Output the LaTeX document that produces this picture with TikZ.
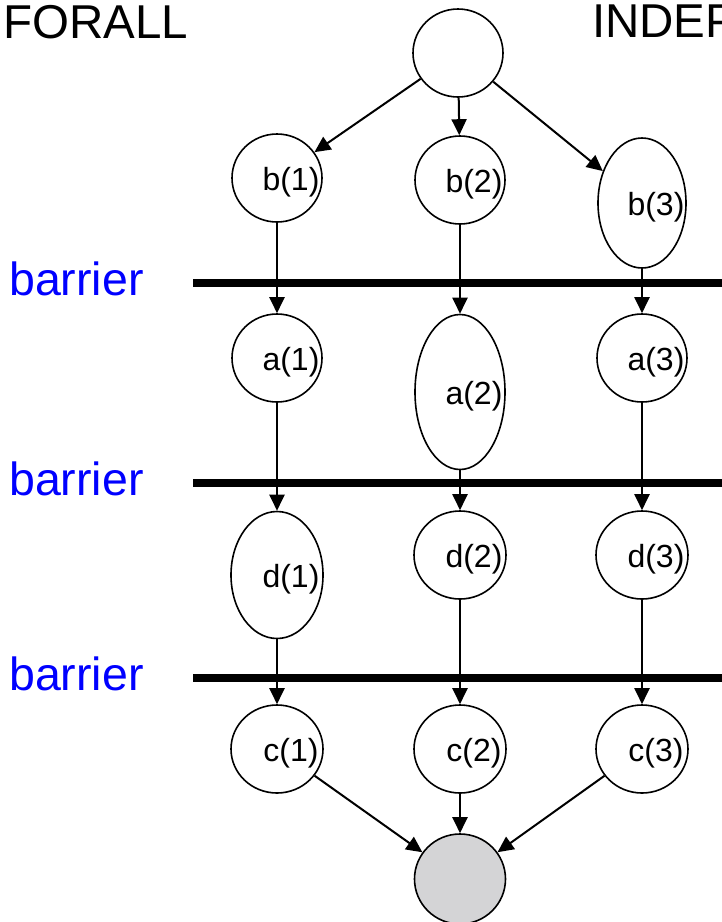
\documentclass[tikz,border=0pt]{standalone}
\usepackage{fontspec}
\setmainfont{Liberation Sans}
\usetikzlibrary{shapes.geometric,arrows.meta}
\definecolor{joinfill}{RGB}{212,212,214}
\definecolor{barrierblue}{RGB}{0,0,255}
\begin{document}
\begin{tikzpicture}[x=1pt,y=-1pt,
  task/.style={draw, ellipse, line width=1.6pt, inner sep=0pt,
    minimum width=90pt, minimum height=88pt},
  tall/.style={minimum height=#1},
  tasklabel/.style={font=\fontsize{32}{38}\selectfont, inner sep=0pt},
  flow/.style={line width=2pt, -{Triangle[length=16pt,width=15pt]}},
  barrierline/.style={line width=8pt},
  barriertext/.style={font=\fontsize{46.5}{54}\selectfont, text=barrierblue,
    anchor=base west, inner sep=0pt},
  heading/.style={font=\fontsize{47.5}{56}\selectfont, anchor=base west, inner sep=0pt}]
\useasboundingbox (0,0) rectangle (722,922);
\clip (0,0) rectangle (722,922);

% headings
\node[heading] (forall) at (3,38) {FORALL};
\node[heading] (indep) at (592,37.5) {INDEPENDENT};

% fork and join
\node[task] (fork) at (458,53) {};
\node[task, fill=joinfill, minimum width=91pt, minimum height=90pt] (join) at (460,879) {};

% task nodes: label text sits right of centre
\newcommand{\tasknode}[5]{%
  \node[task, #5, label={[tasklabel, xshift=14pt, yshift=-4pt]center:#4}] (#1) at (#2,#3) {};}

\tasknode{b1}{277}{178}{b(1)}{}
\tasknode{b2}{460}{180}{b(2)}{}
\tasknode{b3}{642}{203}{b(3)}{tall=130pt, minimum width=88pt}

\tasknode{a1}{277}{358}{a(1)}{}
\tasknode{a2}{460}{392}{a(2)}{tall=155pt}
\tasknode{a3}{642}{358}{a(3)}{}

\tasknode{d1}{277}{575}{d(1)}{tall=127pt, minimum width=92pt}
\tasknode{d2}{460}{555}{d(2)}{minimum width=92pt}
\tasknode{d3}{642}{555}{d(3)}{minimum width=92pt}

\tasknode{c1}{277}{749}{c(1)}{minimum width=92pt}
\tasknode{c2}{460}{749}{c(2)}{minimum width=92pt}
\tasknode{c3}{642}{749}{c(3)}{minimum width=92pt}

% barriers
\coordinate (bar1w) at (193,283); \coordinate (bar1e) at (722,283);
\coordinate (bar2w) at (193,483); \coordinate (bar2e) at (722,483);
\coordinate (bar3w) at (193,678); \coordinate (bar3e) at (722,678);
\draw[barrierline] (bar1w) -- (bar1e);
\draw[barrierline] (bar2w) -- (bar2e);
\draw[barrierline] (bar3w) -- (bar3e);
\node[barriertext] (lbar1) at (9,295) {barrier};
\node[barriertext] (lbar2) at (9,495) {barrier};
\node[barriertext] (lbar3) at (9,690) {barrier};

% dependencies
\draw[flow] (fork) -- (b1);
\draw[flow] (fork) -- (b2);
\draw[flow] (fork) -- (b3);
\foreach \i in {1,2,3} {
  \draw[flow] (b\i) -- (a\i);
  \draw[flow] (a\i) -- (d\i);
  \draw[flow] (d\i) -- (c\i);
  \draw[flow] (c\i) -- (join);
}
\end{tikzpicture}
\end{document}
